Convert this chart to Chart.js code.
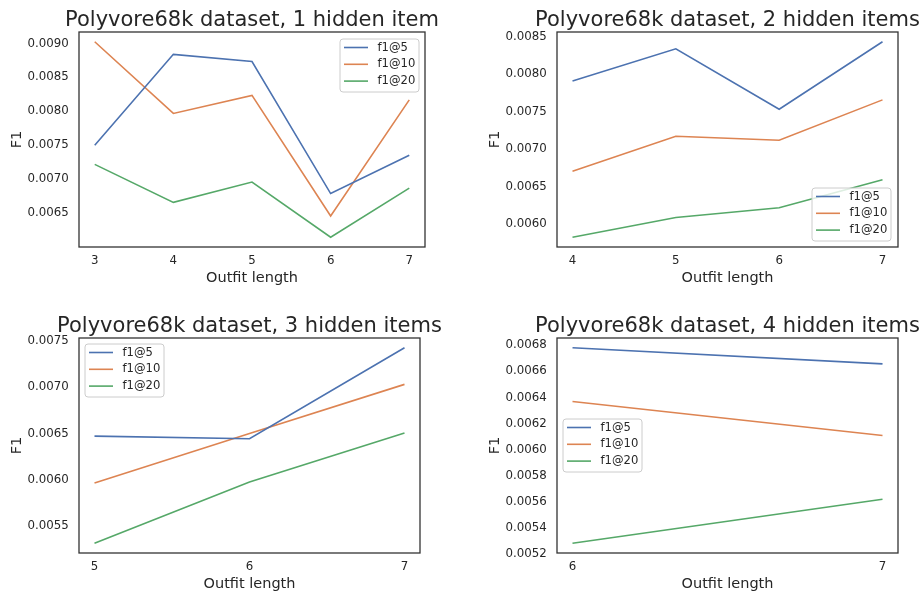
<!DOCTYPE html>
<html>
<head>
<meta charset="utf-8">
<script src="https://cdn.jsdelivr.net/npm/chart.js@4.4.1/dist/chart.umd.min.js"></script>
<style>
  body { margin: 0; background: #fff; }
  #wrap { position: relative; width: 924px; height: 596px; }
  canvas { position: absolute; left: 0; top: 0; }
</style>
</head>
<body>
<div id="wrap">
  <canvas id="c1" width="924" height="596"></canvas>
  <canvas id="c2" width="924" height="596"></canvas>
  <canvas id="c3" width="924" height="596"></canvas>
  <canvas id="c4" width="924" height="596"></canvas>
</div>
<script>
// Data
const seriesLabels = ["f1@5", "f1@10", "f1@20"];
const titles = [
  "Polyvore68k dataset, 1 hidden item",
  "Polyvore68k dataset, 2 hidden items",
  "Polyvore68k dataset, 3 hidden items",
  "Polyvore68k dataset, 4 hidden items"
];

const lengths1 = [3, 4, 5, 6, 7];
const f1at5_h1 = [0.00750, 0.00884, 0.008735, 0.00679, 0.007353];
const f1at10_h1 = [0.009025, 0.00797, 0.008235, 0.00646, 0.00817];
const f1at20_h1 = [0.00722, 0.00666, 0.00696, 0.006147, 0.00687];

const lengths2 = [4, 5, 6, 7];
const f1at5_h2 = [0.00791, 0.00834, 0.007533, 0.008433];
const f1at10_h2 = [0.006705, 0.007173, 0.00712, 0.007658];
const f1at20_h2 = [0.005826, 0.00609, 0.00622, 0.006593];

const lengths3 = [5, 6, 7];
const f1at5_h3 = [0.006472, 0.006444, 0.007425];
const f1at10_h3 = [0.005966, 0.006501, 0.00703];
const f1at20_h3 = [0.005316, 0.005977, 0.006505];

const lengths4 = [6, 7];
const f1at5_h4 = [0.006781, 0.006658];
const f1at10_h4 = [0.00637, 0.006109];
const f1at20_h4 = [0.005285, 0.005622];

const yTicks1 = [0.0065, 0.0070, 0.0075, 0.0080, 0.0085, 0.0090];
const yTicks2 = [0.0060, 0.0065, 0.0070, 0.0075, 0.0080, 0.0085];
const yTicks3 = [0.0055, 0.0060, 0.0065, 0.0070, 0.0075];
const yTicks4 = [0.0052, 0.0054, 0.0056, 0.0058, 0.0060, 0.0062, 0.0064, 0.0066, 0.0068];

const colors = ["#4c72b0", "#dd8452", "#55a868"];
const textColor = "#262626";
const font = "'DejaVu Sans', sans-serif";

// axes rectangles (page pixels), legend box corner
const panels = [
  { id: "c1", title: titles[0], xs: lengths1, ys: [f1at5_h1, f1at10_h1, f1at20_h1], yTicks: yTicks1,
    area: { left: 79, top: 32, right: 425, bottom: 247 }, row: [0, 298], legendAt: [340, 39] },
  { id: "c2", title: titles[1], xs: lengths2, ys: [f1at5_h2, f1at10_h2, f1at20_h2], yTicks: yTicks2,
    area: { left: 557, top: 32, right: 898, bottom: 247 }, row: [0, 298], legendAt: [812, 188] },
  { id: "c3", title: titles[2], xs: lengths3, ys: [f1at5_h3, f1at10_h3, f1at20_h3], yTicks: yTicks3,
    area: { left: 79, top: 338, right: 420, bottom: 553 }, row: [298, 596], legendAt: [85, 344] },
  { id: "c4", title: titles[3], xs: lengths4, ys: [f1at5_h4, f1at10_h4, f1at20_h4], yTicks: yTicks4,
    area: { left: 557, top: 338, right: 898, bottom: 553 }, row: [298, 596], legendAt: [563, 419] }
];

// frame around the axes
const framePlugin = {
  id: "frame",
  afterDatasetsDraw(chart) {
    const { ctx, chartArea: a } = chart;
    ctx.save();
    ctx.strokeStyle = "#333333";
    ctx.lineWidth = 1.3;
    ctx.strokeRect(a.left, a.top, a.right - a.left, a.bottom - a.top);
    ctx.restore();
  }
};

// axes title, centred over the plot, allowed to overflow it like matplotlib
const axesTitle = {
  id: "axesTitle",
  afterDraw(chart, args, opts) {
    const { ctx, chartArea: a } = chart;
    ctx.save();
    ctx.font = "21px " + font;
    ctx.fillStyle = textColor;
    ctx.textAlign = "center";
    ctx.textBaseline = "alphabetic";
    ctx.fillText(opts.text, (a.left + a.right) / 2, a.top - 6);
    ctx.restore();
  }
};

// matplotlib-like legend box inside the axes
const boxLegend = {
  id: "boxLegend",
  afterDraw(chart, args, opts) {
    const { ctx } = chart;
    const x = opts.x, y = opts.y, w = 79, h = 53;
    ctx.save();
    ctx.beginPath();
    ctx.roundRect(x, y, w, h, 3);
    ctx.fillStyle = "rgba(255,255,255,0.8)";
    ctx.fill();
    ctx.strokeStyle = "#cccccc";
    ctx.lineWidth = 1;
    ctx.stroke();
    ctx.font = "11.6px " + font;
    ctx.textBaseline = "middle";
    chart.data.datasets.forEach((ds, i) => {
      const ry = y + 8.5 + i * 16.8;
      ctx.strokeStyle = ds.borderColor;
      ctx.lineWidth = 1.6;
      ctx.beginPath();
      ctx.moveTo(x + 4, ry);
      ctx.lineTo(x + 28, ry);
      ctx.stroke();
      ctx.fillStyle = textColor;
      ctx.fillText(ds.label, x + 37.5, ry);
    });
    ctx.restore();
  }
};

function padRange(values, frac) {
  const lo = Math.min(...values), hi = Math.max(...values);
  const m = (hi - lo) * frac;
  return [lo - m, hi + m];
}

panels.forEach(p => {
  const [xmin, xmax] = padRange(p.xs, 0.05);
  const [ymin, ymax] = padRange(p.ys.flat(), 0.05);
  const yAxisWidth = 79;
  const xAxisHeight = p.row[1] - p.area.bottom;
  const xTitlePad = p.row[0] === 0 ? 11.3 : 3;

  new Chart(document.getElementById(p.id), {
    type: "line",
    data: {
      datasets: p.ys.map((ys, i) => ({
        label: seriesLabels[i],
        data: p.xs.map((x, j) => ({ x, y: ys[j] })),
        borderColor: colors[i],
        backgroundColor: colors[i],
        borderWidth: 1.6,
        pointRadius: 0,
        tension: 0,
        fill: false
      }))
    },
    options: {
      responsive: false,
      animation: false,
      events: [],
      layout: {
        padding: {
          left: p.area.left - yAxisWidth,
          right: 924 - p.area.right,
          top: p.area.top,
          bottom: 596 - p.row[1]
        }
      },
      scales: {
        x: {
          type: "linear",
          min: xmin,
          max: xmax,
          afterBuildTicks: s => { s.ticks = p.xs.map(v => ({ value: v })); },
          afterFit: s => { s.height = xAxisHeight; },
          grid: { display: false, drawTicks: false },
          border: { display: false },
          ticks: { color: textColor, font: { family: font, size: 11.8 }, padding: 7.3, callback: v => v },
          title: { display: true, text: "Outfit length", color: textColor,
                   font: { family: font, size: 14.5 }, padding: { top: 0, bottom: xTitlePad } }
        },
        y: {
          type: "linear",
          min: ymin,
          max: ymax,
          afterBuildTicks: s => { s.ticks = p.yTicks.map(v => ({ value: v })); },
          afterFit: s => { s.width = yAxisWidth; },
          grid: { display: false, drawTicks: false },
          border: { display: false },
          ticks: { color: textColor, font: { family: font, size: 11.8 }, padding: 10.3,
                   callback: v => v.toFixed(4) },
          title: { display: true, text: "F1", color: textColor,
                   font: { family: font, size: 14.5 }, padding: { top: 8.8, bottom: 0 } }
        }
      },
      plugins: {
        legend: { display: false },
        tooltip: { enabled: false },
        title: { display: false },
        axesTitle: { text: p.title },
        boxLegend: { x: p.legendAt[0], y: p.legendAt[1] }
      }
    },
    plugins: [framePlugin, axesTitle, boxLegend]
  });
});
</script>
</body>
</html>
